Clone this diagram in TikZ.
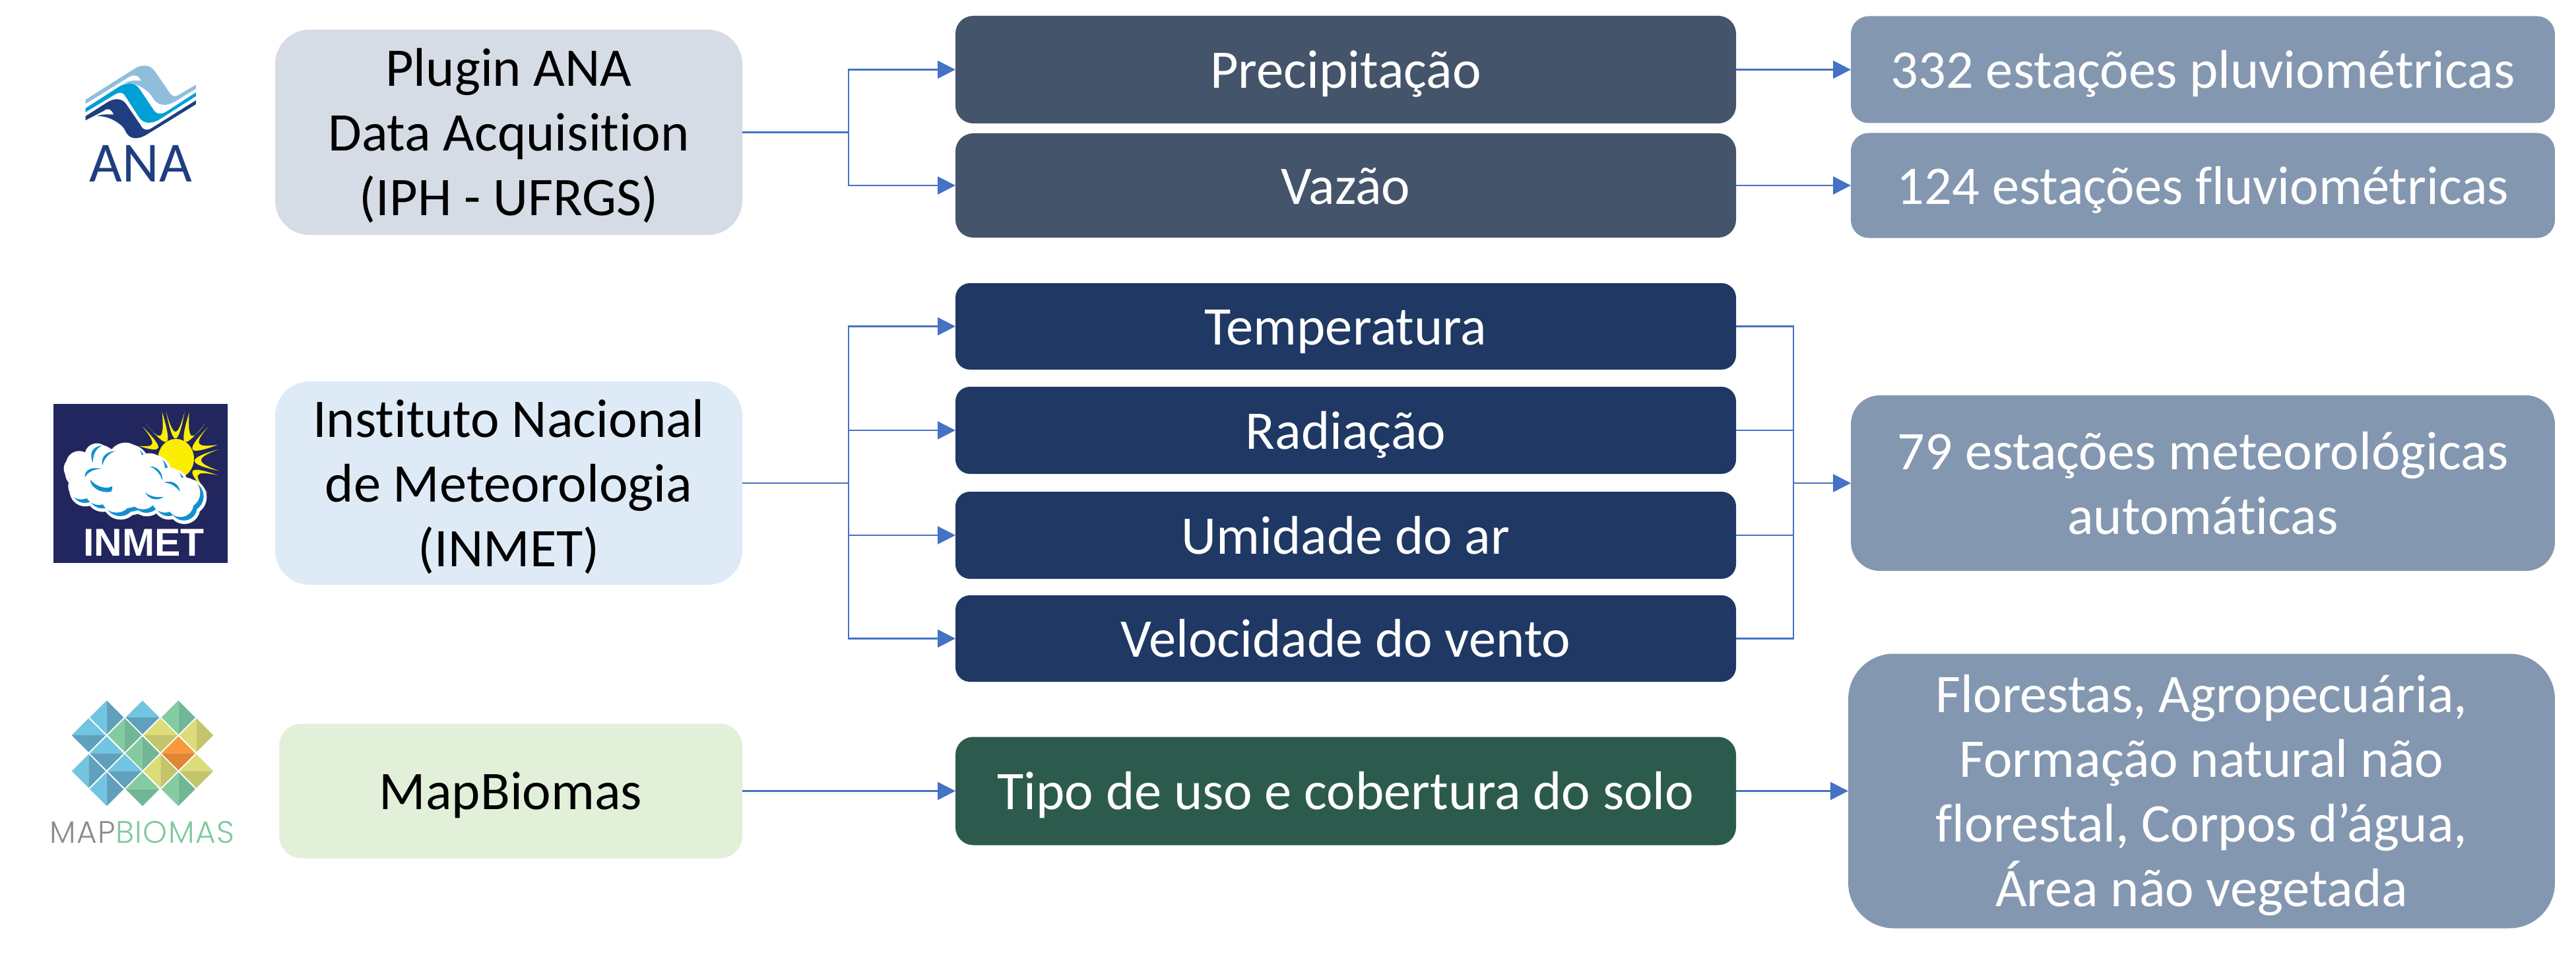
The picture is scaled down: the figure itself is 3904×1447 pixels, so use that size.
\documentclass[tikz,border=0pt]{standalone}
\usepackage{fontspec}
\setmainfont[Ligatures=NoCommon]{Carlito}
\newfontfamily\inmetfont{Liberation Sans}
\newfontfamily\mbfont[LetterSpace=3]{Poppins Light}
\usetikzlibrary{arrows.meta,calc}
\definecolor{flowc}{HTML}{4472C4}
\definecolor{anabox}{HTML}{D6DCE5}
\definecolor{inmetbox}{HTML}{DEEBF7}
\definecolor{mapbox}{HTML}{E2F0D9}
\definecolor{slatebox}{HTML}{44546A}
\definecolor{navybox}{HTML}{1F3864}
\definecolor{greybox}{HTML}{8497B0}
\definecolor{greenbox}{HTML}{2C5B4E}
\definecolor{analight}{HTML}{8FBEDC}
\definecolor{anamid}{HTML}{009FD6}
\definecolor{anadark}{HTML}{1F3E80}
\definecolor{inmetnavy}{HTML}{21265F}
\definecolor{inmetyellow}{HTML}{FBEE00}
\definecolor{inmetblue}{HTML}{1190D0}
\definecolor{bluel}{HTML}{72C5E0}\definecolor{blued}{HTML}{5FA0BD}
\definecolor{greenl}{HTML}{85CBA0}\definecolor{greend}{HTML}{72B795}
\definecolor{yell}{HTML}{DCDC78}\definecolor{yeld}{HTML}{C4C46B}
\definecolor{oral}{HTML}{F8993F}\definecolor{orad}{HTML}{E08634}
\newcommand{\tstrut}{\rule[-20.6pt]{0pt}{98pt}}
\tikzset{
  boxbase/.style={draw=none,inner sep=0pt,outer sep=0pt,align=center,
    font=\fontsize{82.5}{98}\selectfont},
  lightbox/.style={boxbase,text=black},
  darkbox/.style={boxbase,text=white},
  link/.style={draw=flowc,line width=2.5pt},
  flow/.style={link,-{Triangle[length=27pt,width=27pt]}},
}
% diamond pieces: v = vertical split, h = horizontal split
\newcommand{\dmdv}[4]{%
  \fill[#3] (#1-77,#2)--(#1,#2-77)--(#1,#2+77)--cycle;
  \fill[#4] (#1+77,#2)--(#1,#2-77)--(#1,#2+77)--cycle;}
\newcommand{\dmdh}[4]{%
  \fill[#3] (#1-77,#2)--(#1,#2-77)--(#1+77,#2)--cycle;
  \fill[#4] (#1-77,#2)--(#1,#2+77)--(#1+77,#2)--cycle;}
\newcommand{\cloudlobes}[4]{%
  \foreach \cx/\cy/\cr in {225/390/55,240/370/60,320/330/55,450/350/78,560/390/70,650/440/55,720/500/70,250/470/60,330/490/65,410/520/70,530/510/65,630/530/60,700/550/60,450/450/120,600/480/80,300/420/80,380/360/60,360/340/40}
    {\fill[#4] (\cx+#1,\cy+#2) circle ({\cr+#3});}}
\newcommand{\sunray}[8]{%
  \fill[inmetyellow] (#1,#2) .. controls ($(#5,#6)+0.13*(#1,#2)-0.13*(#3,#4)$) and ($(#5,#6)-0.13*(#1,#2)+0.13*(#3,#4)$) .. (#3,#4) .. controls ($(#7,#8)-0.1*(#1,#2)+0.1*(#3,#4)$) and ($(#7,#8)+0.1*(#1,#2)-0.1*(#3,#4)$) .. cycle;}
\begin{document}
\begin{tikzpicture}[x=1pt,y=-1pt]
\useasboundingbox (0,0) rectangle (3904,1447);

% --- ANA logo
\begin{scope}[shift={(0,40)},scale=1/3]
\fill[analight] (389,333) -- (600,200) .. controls (640,170) and (680,170) .. (705,205) -- (770,300) .. controls (782,322) and (800,320) .. (815,310) -- (891,265) -- (891,283) -- (790,345) .. controls (750,365) and (715,360) .. (695,325) .. controls (680,295) and (620,250) .. (565,258) .. controls (590,245) and (620,245) .. (642,247) .. controls (630,222) and (615,218) .. (590,228) -- (389,352) -- cycle;
\fill[anamid] (389,372) -- (540,275) .. controls (580,250) and (615,255) .. (635,285) -- (695,375) .. controls (710,402) and (735,402) .. (760,385) -- (891,300) -- (891,317) -- (730,420) .. controls (690,445) and (650,445) .. (630,410) -- (565,310) .. controls (555,298) and (540,300) .. (525,308) -- (389,390) -- cycle;
\fill[anadark] (389,408) -- (480,350) .. controls (520,322) and (555,325) .. (575,355) -- (640,450) .. controls (650,472) and (670,475) .. (690,462) -- (891,336) -- (891,354) -- (670,490) .. controls (630,515) and (595,515) .. (575,485) .. controls (565,465) and (560,455) .. (545,445) .. controls (520,425) and (480,405) .. (440,408) .. controls (465,398) and (495,400) .. (517,400) .. controls (505,375) and (490,368) .. (470,385) -- (389,427) -- cycle;
\end{scope}
\node[anchor=base,text=anadark,inner sep=0pt,font=\fontsize{86}{100}\selectfont] (analogo) at (213.5,276) {ANA};

% --- INMET logo
\fill[inmetnavy] (81,612) rectangle (345,853);
\begin{scope}[shift={(190,610)},scale=1/3]
\fill[inmetyellow] (230,255) ellipse (82 and 90);
\sunray{185}{40}{270}{40}{228}{204}{228}{163}
\sunray{167}{42}{92}{95}{207}{214}{170}{177}
\sunray{77}{108}{60}{197}{177}{222}{140}{196}
\sunray{290}{45}{363}{95}{251}{214}{291}{177}
\sunray{378}{108}{420}{192}{274}{233}{314}{197}
\sunray{425}{212}{425}{310}{278}{266}{318}{262}
\sunray{420}{330}{378}{415}{274}{292}{307}{316}
\end{scope}
\begin{scope}[shift={(40,580)},scale=1/3]
\cloudlobes{18}{20}{12}{white}
\cloudlobes{16}{16}{0}{inmetblue}
\cloudlobes{0}{0}{0}{white}
\fill[inmetblue] (345,285) .. controls (295,290) and (285,325) .. (303,365) .. controls (300,325) and (320,295) .. cycle;
\fill[inmetblue] (405,310) .. controls (350,315) and (340,345) .. (345,378) .. controls (352,345) and (375,320) .. cycle;
\fill[inmetblue] (342,392) .. controls (295,380) and (265,395) .. (265,430) .. controls (280,405) and (310,390) .. cycle;
\fill[inmetblue] (290,440) .. controls (290,475) and (340,505) .. (385,495) .. controls (392,480) and (392,475) .. (390,470) .. controls (365,485) and (320,475) .. cycle;
\fill[inmetblue] (558,380) .. controls (600,380) and (620,410) .. (618,445) .. controls (610,415) and (590,390) .. cycle;
\fill[inmetblue] (625,453) .. controls (670,440) and (695,465) .. (698,495) .. controls (680,470) and (655,455) .. cycle;
\fill[inmetblue] (540,497) .. controls (555,530) and (595,540) .. (625,518) .. controls (595,522) and (565,520) .. cycle;
\end{scope}
\node[anchor=base,text=white,inner sep=0pt,font=\inmetfont\bfseries\fontsize{59}{70}\selectfont] (inmetlogo) at (218,842) {INMET};

% --- MapBiomas logo
\begin{scope}[shift={(40,1040)},scale=1/3]
\dmdv{365}{141}{bluel}{blued}
\dmdh{528}{141}{bluel}{blued}
\dmdv{691}{141}{greenl}{greend}
\dmdh{283}{222}{bluel}{blued}
\dmdv{447}{222}{greenl}{greend}
\dmdh{610}{222}{yell}{yeld}
\dmdv{773}{222}{yell}{yeld}
\dmdh{365}{304}{bluel}{blued}
\dmdv{528}{304}{greenl}{greend}
\dmdh{691}{304}{oral}{orad}
\dmdv{283}{385}{bluel}{blued}
\dmdh{447}{385}{bluel}{blued}
\dmdv{610}{385}{yell}{yeld}
\dmdh{773}{385}{yell}{yeld}
\dmdv{365}{467}{bluel}{blued}
\dmdh{528}{467}{greenl}{greend}
\dmdv{691}{467}{greenl}{greend}
\end{scope}
\node[anchor=base,inner sep=0pt,font=\mbfont\fontsize{47}{50}\selectfont] (maplogo) at (215.5,1277) {\textcolor[HTML]{8C8C8C}{MAP}\textcolor[HTML]{7FC9A0}{BIOMAS}};

% --- Source boxes
\node[lightbox,fill=anabox,rounded corners=52pt,minimum width=708pt,minimum height=311pt] (ana) at (771,200.5) {Plugin ANA\tstrut\\Data Acquisition\tstrut\\(IPH - UFRGS)\tstrut};
\node[lightbox,fill=inmetbox,rounded corners=52pt,minimum width=708pt,minimum height=308pt] (inmet) at (771,732) {Instituto Nacional\tstrut\\de Meteorologia\tstrut\\(INMET)\tstrut};
\node[lightbox,fill=mapbox,rounded corners=34pt,minimum width=702pt,minimum height=204pt] (map) at (774,1198.5) {MapBiomas\tstrut};

% --- Variable boxes
\node[darkbox,fill=slatebox,rounded corners=27pt,minimum width=1183pt,minimum height=163pt] (prec) at (2039.5,105.5) {Precipitação\tstrut};
\node[darkbox,fill=slatebox,rounded corners=27pt,minimum width=1183pt,minimum height=158pt] (vaz) at (2039.5,281) {Vazão\tstrut};
\node[darkbox,fill=navybox,rounded corners=22pt,minimum width=1183pt,minimum height=131pt] (temp) at (2039.5,494.5) {Temperatura\tstrut};
\node[darkbox,fill=navybox,rounded corners=22pt,minimum width=1183pt,minimum height=132pt] (rad) at (2039.5,652) {Radiação\tstrut};
\node[darkbox,fill=navybox,rounded corners=22pt,minimum width=1183pt,minimum height=132pt] (umid) at (2039.5,811) {Umidade do ar\tstrut};
\node[darkbox,fill=navybox,rounded corners=22pt,minimum width=1183pt,minimum height=131pt] (vel) at (2039.5,967.5) {Velocidade do vento\tstrut};
\node[darkbox,fill=greenbox,rounded corners=27pt,minimum width=1183pt,minimum height=164pt] (tipo) at (2039.5,1198.5) {Tipo de uso e cobertura do solo\tstrut};

% --- Result boxes
\node[darkbox,fill=greybox,rounded corners=27pt,minimum width=1067pt,minimum height=162pt] (st1) at (3338.5,105.5) {332 estações pluviométricas\tstrut};
\node[darkbox,fill=greybox,rounded corners=27pt,minimum width=1067pt,minimum height=159pt] (st2) at (3338.5,281) {124 estações fluviométricas\tstrut};
\node[darkbox,fill=greybox,rounded corners=44pt,minimum width=1067pt,minimum height=266pt] (st3) at (3338.5,732) {79 estações meteorológicas\tstrut\\automáticas\tstrut};
\node[darkbox,fill=greybox,rounded corners=69pt,minimum width=1071pt,minimum height=416pt] (st4) at (3336.5,1198.5) {Florestas, Agropecuária,\tstrut\\Formação natural não\tstrut\\florestal, Corpos d’água,\tstrut\\Área não vegetada\tstrut};

% --- Connectors
\coordinate (j1) at (1286,200.5);
\draw[link] (ana.east) -- (j1);
\draw[flow] (j1) |- (prec.west);
\draw[flow] (j1) |- (vaz.west);
\coordinate (j2) at (1286,732);
\draw[link] (inmet.east) -- (j2);
\draw[flow] (j2) |- (temp.west);
\draw[flow] (j2) |- (rad.west);
\draw[flow] (j2) |- (umid.west);
\draw[flow] (j2) |- (vel.west);
\draw[flow] (map.east) -- (tipo.west);
\draw[flow] (prec.east) -- (st1.west);
\draw[flow] (vaz.east) -- (st2.west);
\coordinate (j3) at (2718,732);
\draw[link] (temp.east) -| (j3);
\draw[link] (rad.east) -| (j3);
\draw[link] (umid.east) -| (j3);
\draw[link] (vel.east) -| (j3);
\draw[flow] (j3) -- (st3.west);
\draw[flow] (tipo.east) -- (st4.west);
\end{tikzpicture}
\end{document}
